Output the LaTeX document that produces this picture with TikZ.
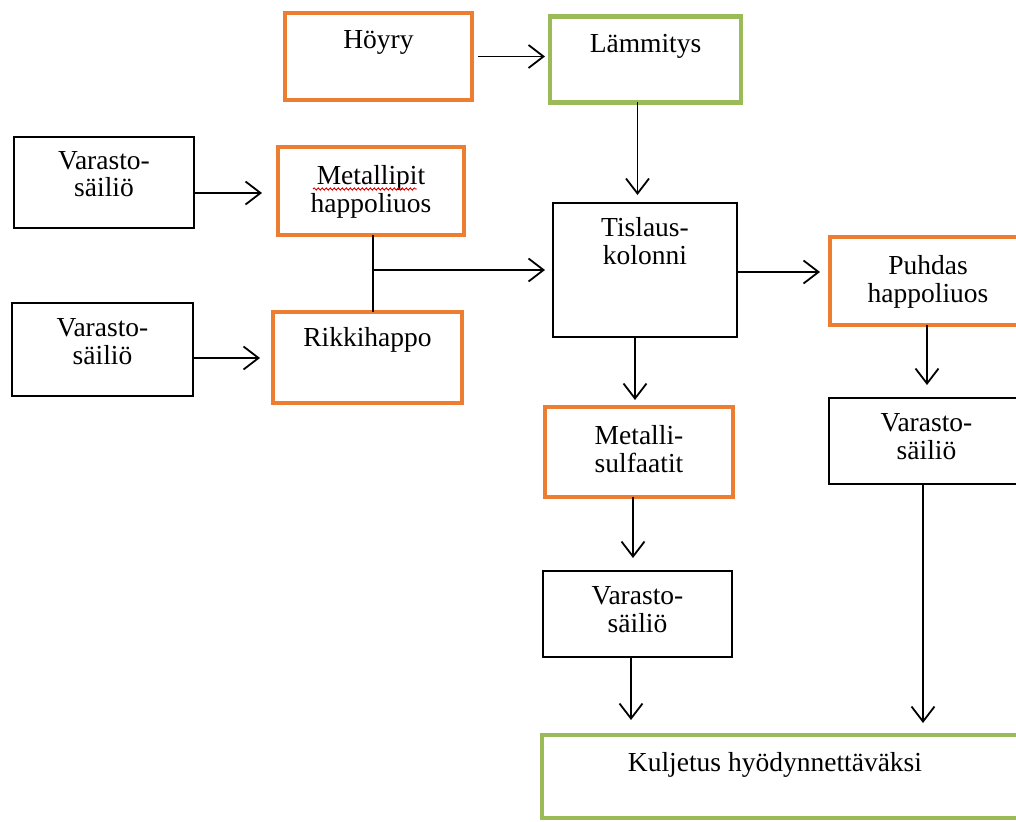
\documentclass[tikz,border=0pt]{standalone}
\usepackage{fontspec}
\setmainfont{Liberation Serif}
\usetikzlibrary{arrows.meta,decorations.pathmorphing}
\definecolor{boxorange}{HTML}{ED7D31}
\definecolor{boxgreen}{HTML}{9BBB59}
\newcommand\twolines[2]{\begin{tabular}[t]{@{}c@{}}#1\\#2\end{tabular}}
\begin{document}
\begin{tikzpicture}[x=1pt,y=-1pt,
  box/.style={rectangle,inner sep=0pt,outer sep=0pt},
  obox/.style={box,draw=boxorange,line width=4.5pt},
  gbox/.style={box,draw=boxgreen,line width=4.5pt},
  kbox/.style={box,draw=black,line width=1.8pt},
  lbl/.style={inner sep=0pt,outer sep=0pt,anchor=base,
    font=\fontsize{27.5}{28}\selectfont},
  arr/.style={line width=1.8pt,-{Straight Barb[length=15pt,width=23pt]}},
  link/.style={line width=1.8pt}]
\useasboundingbox (0,0) rectangle (1016,821);
\fill[white] (0,0) rectangle (1016,821);
\clip (0,0) rectangle (1016,821);

% boxes
\node[obox,minimum width=187pt,minimum height=87pt] (hoyry) at (378.5,56.5) {};
\node[gbox,minimum width=191pt,minimum height=86pt] (lammitys) at (645.5,59.5) {};
\node[kbox,minimum width=180pt,minimum height=91pt] (var1) at (104,182.5) {};
\node[obox,minimum width=186pt,minimum height=88pt] (metpit) at (371,191) {};
\node[kbox,minimum width=181pt,minimum height=93pt] (var2) at (102.5,349.5) {};
\node[obox,minimum width=189pt,minimum height=91pt] (rikki) at (367.5,357.5) {};
\node[kbox,minimum width=184pt,minimum height=134pt] (tislaus) at (645,270) {};
\node[obox,minimum width=210pt,minimum height=88pt] (puhdas) at (935,281) {};
\node[obox,minimum width=188pt,minimum height=90pt] (metsulf) at (639,452) {};
\node[kbox,minimum width=211pt,minimum height=86pt] (var3) at (934.5,441) {};
\node[kbox,minimum width=189pt,minimum height=86pt] (var4) at (637.5,614) {};
\node[gbox,minimum width=498pt,minimum height=83pt] (kuljetus) at (791,776.5) {};

% labels
\node[lbl] (hoyry-t) at ([yshift=-36pt]hoyry.north) {Höyry};
\node[lbl] (lammitys-t) at ([yshift=-36pt]lammitys.north) {Lämmitys};
\node[lbl] (var1-t) at ([yshift=-32pt]var1.north) {\twolines{Varasto-}{säiliö}};
\node[lbl] (metpit-t) at ([yshift=-38pt]metpit.north) {\twolines{Metallipit}{happoliuos}};
\node[lbl] (var2-t) at ([yshift=-33pt]var2.north) {\twolines{Varasto-}{säiliö}};
\node[lbl] (rikki-t) at ([yshift=-34pt]rikki.north) {Rikkihappo};
\node[lbl] (tislaus-t) at ([yshift=-33pt]tislaus.north) {\twolines{Tislaus-}{kolonni}};
\node[lbl] (puhdas-t) at ([shift={(-7pt,-37pt)}]puhdas.north) {\twolines{Puhdas}{happoliuos}};
\node[lbl] (metsulf-t) at ([yshift=-37pt]metsulf.north) {\twolines{Metalli-}{sulfaatit}};
\node[lbl] (var3-t) at ([shift={(-8pt,-33pt)}]var3.north) {\twolines{Varasto-}{säiliö}};
\node[lbl] (var4-t) at ([yshift=-33pt]var4.north) {\twolines{Varasto-}{säiliö}};
\node[lbl] (kuljetus-t) at ([shift={(-16pt,-36pt)}]kuljetus.north) {Kuljetus hyödynnettäväksi};

% spell-check underline
\draw[red!85!black,line width=0.9pt,decorate,
  decoration={snake,amplitude=1.1pt,segment length=4pt}]
  ([shift={(-58pt,-42pt)}]metpit.north) -- ([shift={(46pt,-42pt)}]metpit.north);

% connectors
\draw[arr,shorten <=6pt,shorten >=5pt] (hoyry.east) -- (hoyry.east -| lammitys.west);
\draw[arr,shorten >=8pt] ([xshift=-8pt]lammitys.south) -- ([xshift=-8pt]lammitys.south |- tislaus.north);
\draw[arr,shorten >=16pt] ([yshift=-10.5pt]var1.east) -- ([yshift=-10.5pt]var1.east -| metpit.west);
\draw[arr,shorten >=13pt] ([yshift=-8.5pt]var2.east) -- ([yshift=-8.5pt]var2.east -| rikki.west);
\draw[link] ([xshift=2pt]metpit.south) -- ([xshift=2pt]metpit.south |- rikki.north);
\coordinate (jn) at ([xshift=2pt]metpit.south |- 0,270);
\draw[arr,shorten >=8pt] (jn) -- (jn -| tislaus.west);
\draw[arr,shorten >=10pt] ([yshift=-2pt]tislaus.east) -- ([yshift=-2pt]tislaus.east -| puhdas.west);
\draw[arr,shorten >=7pt] ([xshift=-10pt]tislaus.south) -- ([xshift=-10pt]tislaus.south |- metsulf.north);
\draw[arr,shorten >=13pt] ([xshift=-8pt]puhdas.south) -- ([xshift=-8pt]puhdas.south |- var3.north);
\draw[arr,shorten >=13pt] ([xshift=-6pt]metsulf.south) -- ([xshift=-6pt]metsulf.south |- var4.north);
\draw[arr,shorten >=15pt] ([xshift=-6.5pt]var4.south) -- ([xshift=-6.5pt]var4.south |- kuljetus.north);
\draw[arr,shorten >=12pt] ([xshift=-11.5pt]var3.south) -- ([xshift=-11.5pt]var3.south |- kuljetus.north);
\end{tikzpicture}
\end{document}
